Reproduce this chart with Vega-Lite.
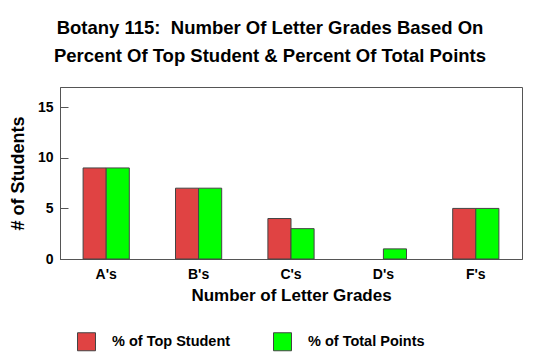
{
  "$schema": "https://vega.github.io/schema/vega-lite/v6.json",
  "autosize": "none",
  "padding": {"left": 60, "top": 87, "right": 18, "bottom": 103},
  "width": 462,
  "height": 172,
  "background": "white",
  "config": {
    "font": "Liberation Sans",
    "view": {"stroke": "#555555", "strokeWidth": 1}
  },
  "title": {
    "text": ["Botany 115: \u00a0Number Of Letter Grades Based On", "Percent Of Top Student & Percent Of Total Points"],
    "font": "Liberation Sans",
    "fontSize": 18.5,
    "fontWeight": "bold",
    "color": "black",
    "lineHeight": 28,
    "anchor": "middle",
    "dx": -21,
    "offset": 22
  },
  "data": {
    "values": [
      {"grade": "A's", "series": "% of Top Student", "count": 9},
      {"grade": "A's", "series": "% of Total Points", "count": 9},
      {"grade": "B's", "series": "% of Top Student", "count": 7},
      {"grade": "B's", "series": "% of Total Points", "count": 7},
      {"grade": "C's", "series": "% of Top Student", "count": 4},
      {"grade": "C's", "series": "% of Total Points", "count": 3},
      {"grade": "D's", "series": "% of Top Student", "count": 0},
      {"grade": "D's", "series": "% of Total Points", "count": 1},
      {"grade": "F's", "series": "% of Top Student", "count": 5},
      {"grade": "F's", "series": "% of Total Points", "count": 5}
    ]
  },
  "transform": [{"filter": "datum.count > 0"}],
  "mark": {"type": "bar", "stroke": "#444444", "strokeWidth": 1},
  "encoding": {
    "x": {
      "field": "grade",
      "type": "nominal",
      "sort": ["A's", "B's", "C's", "D's", "F's"],
      "scale": {"domain": ["A's", "B's", "C's", "D's", "F's"], "paddingInner": 0.5, "paddingOuter": 0.25},
      "axis": {
        "title": "Number of Letter Grades",
        "titleFont": "Liberation Sans",
        "titleFontSize": 17,
        "titleFontWeight": "bold",
        "titleColor": "black",
        "titlePadding": 6,
        "labelAngle": 0,
        "labelFont": "Liberation Sans",
        "labelFontSize": 14,
        "labelFontWeight": "bold",
        "labelColor": "black",
        "labelPadding": 8,
        "ticks": false,
        "domainColor": "#555555"
      }
    },
    "xOffset": {"field": "series", "type": "nominal", "scale": {"domain": ["% of Top Student", "% of Total Points"]}},
    "y": {
      "field": "count",
      "type": "quantitative",
      "scale": {"domain": [0, 17], "nice": false},
      "axis": {
        "title": "# of Students",
        "titleFont": "Liberation Sans",
        "titleFontSize": 18,
        "titleFontWeight": "bold",
        "titleColor": "black",
        "titlePadding": 10,
        "values": [0, 5, 10, 15],
        "grid": false,
        "tickSize": -8,
        "tickColor": "#555555",
        "domainColor": "#555555",
        "labelFont": "Liberation Sans",
        "labelFontSize": 14,
        "labelFontWeight": "bold",
        "labelColor": "black",
        "labelPadding": 15
      }
    },
    "color": {
      "field": "series",
      "type": "nominal",
      "scale": {"domain": ["% of Top Student", "% of Total Points"], "range": ["#e04343", "#00ff00"]},
      "legend": {
        "title": null,
        "orient": "none",
        "legendX": 17,
        "legendY": 245,
        "direction": "horizontal",
        "symbolType": "square",
        "symbolSize": 324,
        "symbolStrokeColor": "#444444",
        "symbolStrokeWidth": 1,
        "labelFont": "Liberation Sans",
        "labelFontSize": 14.5,
        "labelFontWeight": "bold",
        "labelColor": "black",
        "labelOffset": 16,
        "columnPadding": 40
      }
    }
  }
}
